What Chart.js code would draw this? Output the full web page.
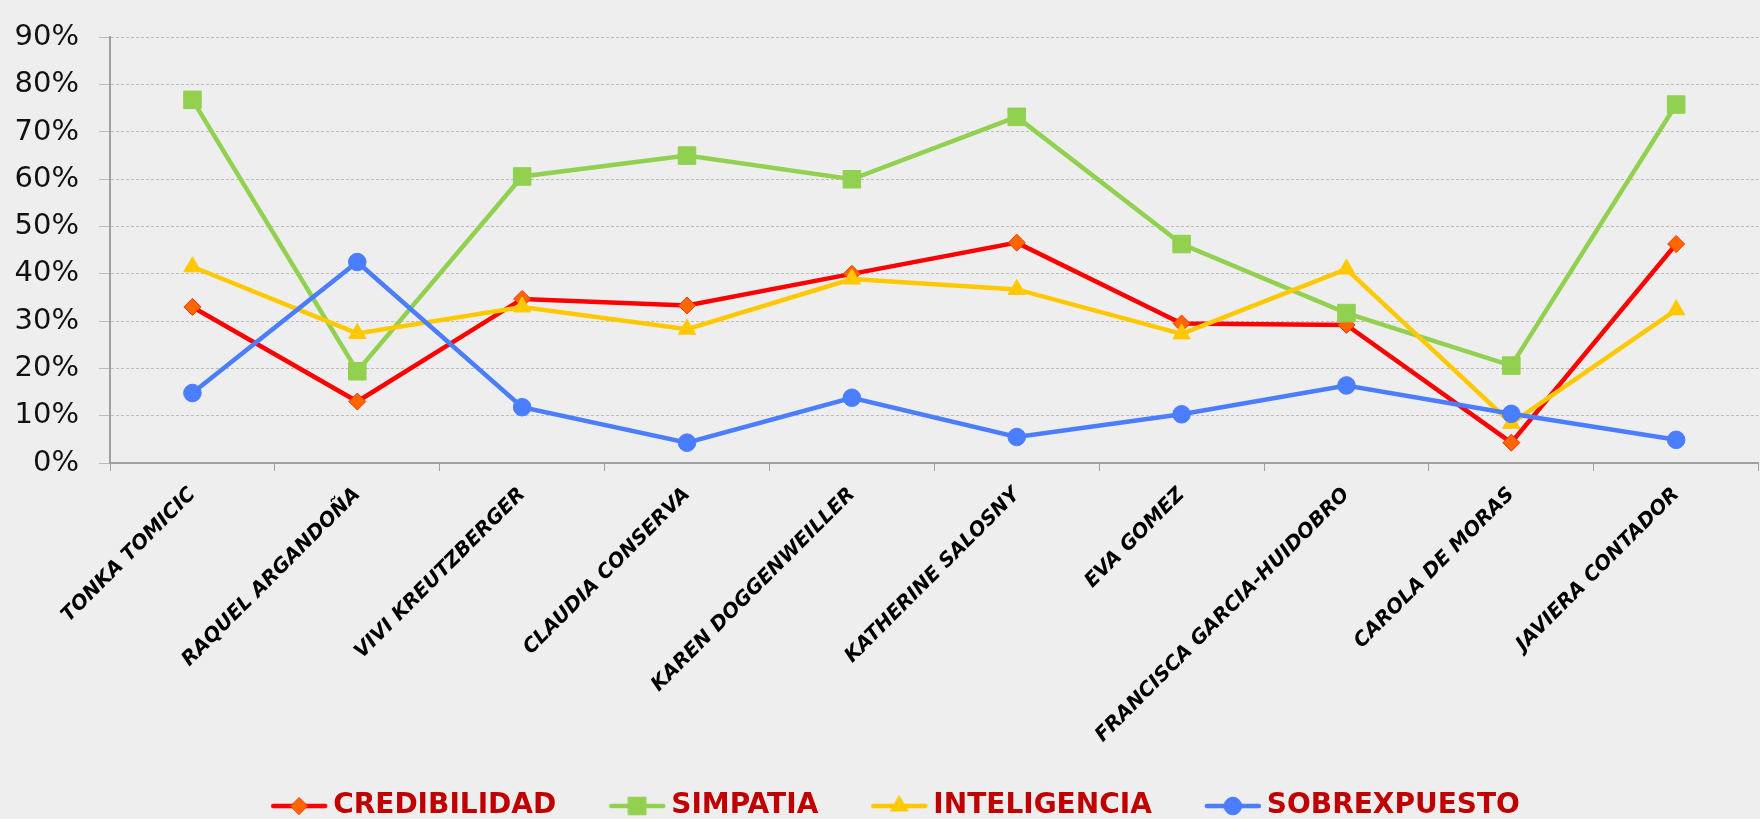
<!DOCTYPE html>
<html>
<head>
<meta charset="utf-8">
<script src="https://cdn.jsdelivr.net/npm/chart.js@4"></script>
<style>
  html, body { margin: 0; padding: 0; background: #eeeeee; overflow: hidden; }
  #marco { width: 1760px; height: 819px; overflow: hidden; }
</style>
</head>
<body>
<div id="marco"><canvas id="grafico" width="1772" height="830"></canvas></div>
<script>
const categorias = [
  'TONKA TOMICIC',
  'RAQUEL ARGANDOÑA',
  'VIVI KREUTZBERGER',
  'CLAUDIA CONSERVA',
  'KAREN DOGGENWEILLER',
  'KATHERINE SALOSNY',
  'EVA GOMEZ',
  'FRANCISCA GARCIA-HUIDOBRO',
  'CAROLA DE MORAS',
  'JAVIERA CONTADOR'
]

const credibilidad = [33.0, 13.0, 34.7, 33.3, 40.0, 46.6, 29.5, 29.2, 4.3, 46.3]
const simpatia = [76.8, 19.4, 60.6, 65.0, 60.0, 73.2, 46.3, 31.7, 20.6, 75.8]
const inteligencia = [41.5, 27.4, 33.0, 28.3, 38.9, 36.7, 27.3, 41.0, 8.4, 32.4]
const sobrexpuesto = [14.8, 42.5, 11.8, 4.3, 13.8, 5.5, 10.3, 16.4, 10.4, 4.9]

const nombresSeries = ['CREDIBILIDAD', 'SIMPATIA', 'INTELIGENCIA', 'SOBREXPUESTO']
const ticksY = [0, 10, 20, 30, 40, 50, 60, 70, 80, 90]

// estilo de cada serie (linea + marcador)
const estilos = [
  { linea: '#ff0000', relleno: '#ff6600', borde: '#ff3300', forma: 'rectRot', radio: 8.5 },
  { linea: '#92d050', relleno: '#92d050', borde: '#92d050', forma: 'rect', radio: 12.4 },
  { linea: '#ffc800', relleno: '#ffc800', borde: '#ffc800', forma: 'triangle', radio: 10 },
  { linea: '#4a7dff', relleno: '#4a7dff', borde: '#4a7dff', forma: 'circle', radio: 8.8 }
]

// icono de la leyenda: trozo de linea con el marcador, pegado al lado derecho
// (la parte izquierda queda transparente para separar los items)
const anchoCaja = 69
const anchoIcono = 87
function iconoLeyenda(est) {
  const c = document.createElement('canvas')
  c.width = anchoIcono
  c.height = 28
  const ctx = c.getContext('2d')
  const x0 = anchoIcono - 58
  ctx.strokeStyle = est.linea
  ctx.lineWidth = 4.5
  ctx.lineCap = 'round'
  ctx.beginPath()
  ctx.moveTo(x0 + 3, 14)
  ctx.lineTo(x0 + 55, 14)
  ctx.stroke()
  ctx.fillStyle = est.relleno
  ctx.strokeStyle = est.borde
  ctx.lineWidth = 1
  Chart.helpers.drawPoint(ctx, { pointStyle: est.forma, radius: est.radio, borderWidth: 1, rotation: 0 }, x0 + 29, 14)
  return c
}

const valores = [credibilidad, simpatia, inteligencia, sobrexpuesto]

const datasets = valores.map((serie, i) => ({
  label: nombresSeries[i],
  data: serie,
  borderColor: estilos[i].linea,
  backgroundColor: estilos[i].relleno,
  borderWidth: 4.5,
  tension: 0,
  pointStyle: estilos[i].forma,
  pointRadius: estilos[i].radio,
  pointHoverRadius: estilos[i].radio,
  pointBackgroundColor: estilos[i].relleno,
  pointBorderColor: estilos[i].borde,
  pointBorderWidth: 1,
  order: 4 - i // la ultima serie queda encima, como en el original
}))

const iconos = estilos.map(iconoLeyenda)

new Chart(document.getElementById('grafico').getContext('2d'), {
  type: 'line',
  data: { labels: categorias, datasets: datasets },
  options: {
    responsive: false,
    animation: false,
    devicePixelRatio: 1,
    layout: { padding: { left: 0, right: 2, top: 25, bottom: 0 } },
    plugins: {
      tooltip: { enabled: false },
      legend: {
        position: 'bottom',
        labels: {
          usePointStyle: true,
          pointStyleWidth: anchoCaja,
          padding: 32,
          color: '#c00000',
          font: { family: 'DejaVu Sans', size: 28, weight: 'bold' },
          generateLabels: chart =>
            chart.data.datasets.map((ds, i) => ({
              text: ds.label,
              fillStyle: ds.borderColor,
              strokeStyle: ds.borderColor,
              fontColor: '#c00000',
              pointStyle: iconos[i],
              lineWidth: 0,
              hidden: false,
              datasetIndex: i
            }))
        }
      }
    },
    scales: {
      x: {
        offset: true,
        afterFit: s => { s.height = 297 },
        ticks: {
          autoSkip: false,
          maxRotation: 45,
          minRotation: 45,
          padding: 12,
          color: '#000000',
          font: { family: 'DejaVu Sans', size: 20, weight: 'bold', style: 'italic' }
        },
        grid: { offset: true, drawOnChartArea: false, tickLength: 8, color: '#a0a0a0', lineWidth: 1 },
        border: { color: '#a0a0a0', width: 2 }
      },
      y: {
        min: ticksY[0],
        max: ticksY[ticksY.length - 1],
        afterFit: s => { s.width = 110 },
        afterBuildTicks: s => { s.ticks = ticksY.map(v => ({ value: v })) },
        ticks: {
          padding: 20,
          color: '#111111',
          font: { family: 'DejaVu Sans', size: 29 },
          callback: v => v + '%'
        },
        grid: { color: '#bcbcbc', lineWidth: 1, tickLength: 11, tickColor: '#bcbcbc' },
        border: { display: true, color: '#a0a0a0', width: 2, dash: [3, 2] }
      }
    }
  }
})
</script>
</body>
</html>
